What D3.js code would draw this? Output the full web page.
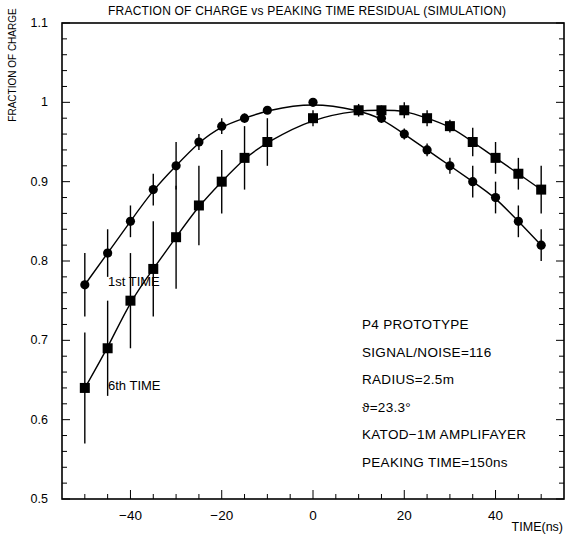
<!DOCTYPE html>
<html>
<head>
<meta charset="utf-8">
<script src="https://cdn.jsdelivr.net/npm/d3@7"></script>
<style>
  body { margin: 0; background: #fff; }
  text { font-family: "Liberation Sans", Arial, sans-serif; fill: #000; }
</style>
</head>
<body>
<svg id="chart"></svg>
<script>
// 1st TIME (circles)
var time1 = [-50, -45, -40, -35, -30, -25, -20, -15, -10, 0, 10, 15, 20, 25, 30, 35, 40, 45, 50];
var frac1 = [0.77, 0.81, 0.85, 0.89, 0.92, 0.95, 0.97, 0.98, 0.99, 1.0, 0.99, 0.98, 0.96, 0.94, 0.92, 0.90, 0.88, 0.85, 0.82];
var err1 = [0.04, 0.03, 0.02, 0.02, 0.03, 0.01, 0.01, 0.006, 0.004, 0.004, 0.005, 0.006, 0.007, 0.008, 0.01, 0.02, 0.02, 0.02, 0.02];

// 6th TIME (squares)
var time6 = [-50, -45, -40, -35, -30, -25, -20, -15, -10, 0, 10, 15, 20, 25, 30, 35, 40, 45, 50];
var frac6 = [0.64, 0.69, 0.75, 0.79, 0.83, 0.87, 0.90, 0.93, 0.95, 0.98, 0.99, 0.99, 0.99, 0.98, 0.97, 0.95, 0.93, 0.91, 0.89];
var err6 = [0.07, 0.06, 0.06, 0.06, 0.065, 0.05, 0.04, 0.04, 0.03, 0.01, 0.008, 0.006, 0.01, 0.01, 0.008, 0.018, 0.02, 0.02, 0.03];

var xTicks = [-40, -20, 0, 20, 40];
var yTicks = [0.5, 0.6, 0.7, 0.8, 0.9, 1, 1.1];
var infoLines = ["P4 PROTOTYPE", "SIGNAL/NOISE=116", "RADIUS=2.5m", "\u03D1=23.3\u00B0", "KATOD\u22121M AMPLIFAYER", "PEAKING TIME=150ns"];

var width = 566, height = 538;
var svg = d3.select("#chart").attr("width", width).attr("height", height);

var x = d3.scaleLinear().domain([-55, 55]).range([62, 564]);
var y = d3.scaleLinear().domain([0.5, 1.1]).range([499, 23]);

// frame
svg.append("rect")
  .attr("x", x(-55)).attr("y", y(1.1))
  .attr("width", x(55) - x(-55)).attr("height", y(0.5) - y(1.1))
  .style("fill", "none").style("stroke", "black").style("stroke-width", 1.6);

// x ticks (inward), major every 20, minor every 5
var xMinor = d3.range(-50, 51, 5);
svg.append("g").selectAll("line").data(xMinor).enter().append("line")
  .attr("x1", d => x(d)).attr("x2", d => x(d))
  .attr("y1", y(0.5))
  .attr("y2", d => y(0.5) - (d % 20 === 0 ? 9 : 5))
  .style("stroke", "black").style("stroke-width", 1);

// y ticks (inward), major every 0.1, minor every 0.02
var yMinor = d3.range(0, 31).map(i => 0.5 + i * 0.02);
svg.append("g").selectAll("line").data(yMinor).enter().append("line")
  .attr("x1", x(-55))
  .attr("x2", (d, i) => x(-55) + (i % 5 === 0 ? 8 : 5))
  .attr("y1", d => y(d)).attr("y2", d => y(d))
  .style("stroke", "black").style("stroke-width", 1);
svg.append("g").selectAll("line").data(yMinor).enter().append("line")
  .attr("x1", x(55))
  .attr("x2", (d, i) => x(55) - (i % 5 === 0 ? 8 : 5))
  .attr("y1", d => y(d)).attr("y2", d => y(d))
  .style("stroke", "black").style("stroke-width", 1);

// tick labels
svg.append("g").selectAll("text").data(xTicks).enter().append("text")
  .attr("x", d => x(d)).attr("y", 520)
  .attr("text-anchor", "middle")
  .style("font-size", "13.5px")
  .text(d => d < 0 ? "\u2212" + Math.abs(d) : d);

svg.append("g").selectAll("text").data(yTicks).enter().append("text")
  .attr("x", 48).attr("y", d => y(d) + 4)
  .attr("text-anchor", "end")
  .style("font-size", "12.5px")
  .text(d => d3.format("")(d));

// titles
svg.append("text")
  .attr("x", 307).attr("y", 15)
  .attr("text-anchor", "middle")
  .style("font-size", "12px")
  .attr("textLength", 398)
  .text("FRACTION OF CHARGE vs PEAKING TIME RESIDUAL (SIMULATION)");

svg.append("text")
  .attr("transform", "translate(16,65) rotate(-90)")
  .attr("text-anchor", "middle")
  .style("font-size", "10px")
  .text("FRACTION OF CHARGE");

svg.append("text")
  .attr("x", 563).attr("y", 531)
  .attr("text-anchor", "end")
  .style("font-size", "12.5px")
  .text("TIME(ns)");

// series
function drawSeries(xs, ys, es, shape) {
  var pts = xs.map((d, i) => [d, ys[i], es[i]]);
  var g = svg.append("g");

  g.append("path")
    .datum(pts)
    .attr("d", d3.line().x(d => x(d[0])).y(d => y(d[1])).curve(d3.curveBasis))
    .style("fill", "none").style("stroke", "black").style("stroke-width", 1.4);

  g.selectAll(".err").data(pts).enter().append("line")
    .attr("x1", d => x(d[0])).attr("x2", d => x(d[0]))
    .attr("y1", d => y(d[1] - d[2])).attr("y2", d => y(d[1] + d[2]))
    .style("stroke", "black").style("stroke-width", 1.4);

  if (shape === "circle") {
    g.selectAll(".m").data(pts).enter().append("circle")
      .attr("cx", d => x(d[0])).attr("cy", d => y(d[1]))
      .attr("r", 4.6).style("fill", "black");
  } else {
    g.selectAll(".m").data(pts).enter().append("rect")
      .attr("x", d => x(d[0]) - 5).attr("y", d => y(d[1]) - 5)
      .attr("width", 10).attr("height", 10).style("fill", "black");
  }
}

drawSeries(time1, frac1, err1, "circle");
drawSeries(time6, frac6, err6, "square");

// series labels
svg.append("text").attr("x", 108).attr("y", 286)
  .style("font-size", "13px").text("1st TIME");
svg.append("text").attr("x", 108).attr("y", 390)
  .style("font-size", "13px").text("6th TIME");

// info block
svg.append("g").selectAll("text").data(infoLines).enter().append("text")
  .attr("x", 362)
  .attr("y", (d, i) => 329 + i * 27.5)
  .style("font-size", "13.5px")
  .style("letter-spacing", "0.3px")
  .text(d => d);
</script>
</body>
</html>
